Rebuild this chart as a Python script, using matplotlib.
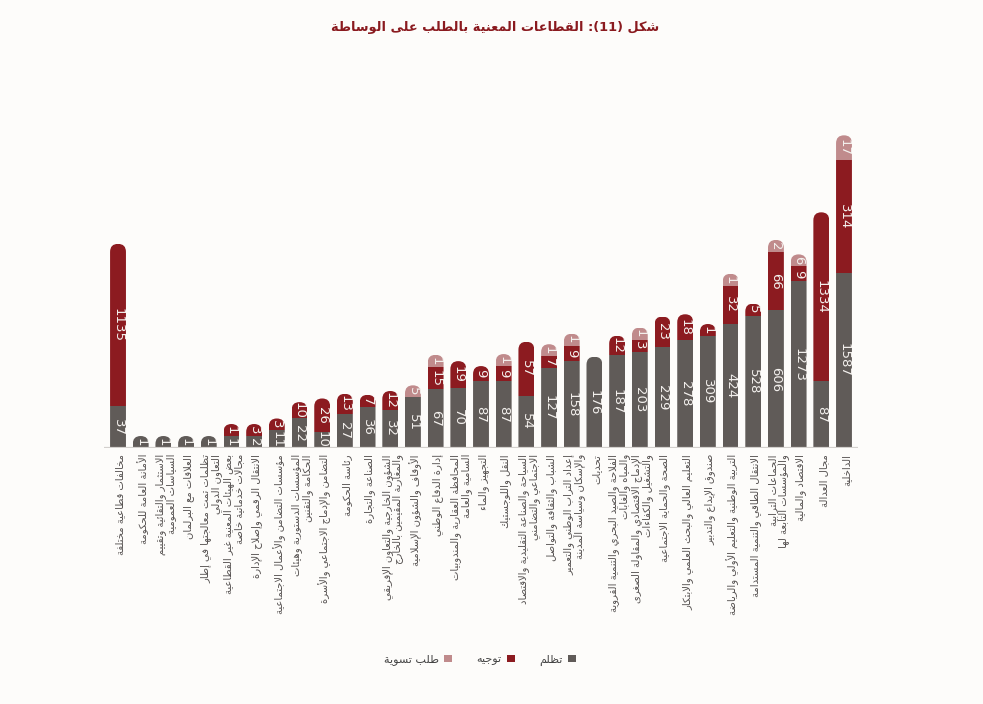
import numpy as np
import matplotlib
matplotlib.use('Agg')
import matplotlib.pyplot as plt
from matplotlib.patches import FancyBboxPatch, Patch

# ---- data (left to right as in the figure) ----
sectors = [
    "مخالفات قطاعية مختلفة",
    "الأمانة العامة للحكومة",
    "الاستثمار والتقائية وتقييم\nالسياسات العمومية",
    "العلاقات مع البرلمان",
    "تظلمات تمت معالجتها في إطار\nالتعاون الدولي",
    "بعض الهيئات المعنية غير القطاعية\nمجالات خدماتية خاصة",
    "الانتقال الرقمي وإصلاح الإدارة",
    "مؤسسات التضامن والأعمال الاجتماعية",
    "المؤسسات الدستورية وهيئات\nالحكامة والتقنين",
    "التضامن والإدماج الاجتماعي والأسرة",
    "رئاسة الحكومة",
    "الصناعة والتجارة",
    "الشؤون الخارجية والتعاون الإفريقي\nوالمغاربة المقيمين بالخارج",
    "الأوقاف والشؤون الإسلامية",
    "إدارة الدفاع الوطني",
    "المحافظة العقارية والمندوبيات\nالسامية والعامة",
    "التجهيز والماء",
    "النقل واللوجستيك",
    "السياحة والصناعة التقليدية والاقتصاد\nالاجتماعي والتضامني",
    "الشباب والثقافة والتواصل",
    "إعداد التراب الوطني والتعمير\nوالإسكان وسياسة المدينة",
    "تحديات",
    "الفلاحة والصيد البحري والتنمية القروية\nوالمياه والغابات",
    "الإدماج الاقتصادي والمقاولة الصغرى\nوالتشغيل والكفاءات",
    "الصحة والحماية الاجتماعية",
    "التعليم العالي والبحث العلمي والابتكار",
    "صندوق الإيداع والتدبير",
    "التربية الوطنية والتعليم الأولي والرياضة",
    "الانتقال الطاقي والتنمية المستدامة",
    "الجماعات الترابية\nوالمؤسسات التابعة لها",
    "الاقتصاد والمالية",
    "مجال العدالة",
    "الداخلية",
]
complaints = [37, 1, 1, 1, 1, 1, 2, 11, 22, 10, 27, 36, 32, 51, 67, 70, 87, 87,
              54, 127, 158, 176, 187, 203, 229, 278, 309, 424, 528, 606, 1273, 87, 1587]
referrals = [1135, 0, 0, 0, 0, 1, 3, 3, 10, 26, 13, 7, 12, 0, 15, 19, 9, 9,
             57, 7, 9, 0, 12, 3, 23, 18, 1, 32, 5, 66, 9, 1334, 314]
settlements = [0, 0, 0, 0, 0, 0, 0, 0, 0, 0, 0, 0, 0, 5, 1, 0, 0, 1,
               0, 1, 1, 0, 0, 1, 0, 0, 0, 1, 0, 2, 6, 0, 17]
series_names = ["تظلم", "توجيه", "طلب تسوية"]
series_colors = ["#605b58", "#8c1b20", "#c08b8c"]
title = "شكل (11): القطاعات المعنية بالطلب على الوساطة"

# ---- minimal arabic shaping + right-to-left ordering (matplotlib does neither) ----
AR = {'ء': (0xFE80, 1), 'آ': (0xFE81, 2), 'أ': (0xFE83, 2), 'ؤ': (0xFE85, 2),
      'إ': (0xFE87, 2), 'ئ': (0xFE89, 4), 'ا': (0xFE8D, 2), 'ب': (0xFE8F, 4),
      'ة': (0xFE93, 2), 'ت': (0xFE95, 4), 'ث': (0xFE99, 4), 'ج': (0xFE9D, 4),
      'ح': (0xFEA1, 4), 'خ': (0xFEA5, 4), 'د': (0xFEA9, 2), 'ذ': (0xFEAB, 2),
      'ر': (0xFEAD, 2), 'ز': (0xFEAF, 2), 'س': (0xFEB1, 4), 'ش': (0xFEB5, 4),
      'ص': (0xFEB9, 4), 'ض': (0xFEBD, 4), 'ط': (0xFEC1, 4), 'ظ': (0xFEC5, 4),
      'ع': (0xFEC9, 4), 'غ': (0xFECD, 4), 'ف': (0xFED1, 4), 'ق': (0xFED5, 4),
      'ك': (0xFED9, 4), 'ل': (0xFEDD, 4), 'م': (0xFEE1, 4), 'ن': (0xFEE5, 4),
      'ه': (0xFEE9, 4), 'و': (0xFEED, 2), 'ى': (0xFEEF, 2), 'ي': (0xFEF1, 4)}
LAM_ALEF = {'آ': 0xFEF5, 'أ': 0xFEF7, 'إ': 0xFEF9, 'ا': 0xFEFB}
MIRROR = {'(': ')', ')': '('}


def shape_word(w):
    toks = []
    i = 0
    while i < len(w):
        c = w[i]
        if c == 'ل' and i + 1 < len(w) and w[i + 1] in LAM_ALEF:
            toks.append((LAM_ALEF[w[i + 1]], 2))
            i += 2
            continue
        toks.append(AR.get(c, (c, 0)))
        i += 1
    if not any(n for _, n in toks):
        # neutral/number token: mirror punctuation, keep digit runs left-to-right
        rev = [MIRROR.get(c, c) for c in w[::-1]]
        out, j = [], 0
        while j < len(rev):
            if rev[j].isdigit():
                k = j
                while k < len(rev) and rev[k].isdigit():
                    k += 1
                out.extend(rev[j:k][::-1])
                j = k
            else:
                out.append(rev[j])
                j += 1
        return ''.join(out)
    out = []
    for k, (base, n) in enumerate(toks):
        if n == 0:
            out.append(base)
            continue
        prev = toks[k - 1] if k > 0 else (None, 0)
        nxt = toks[k + 1] if k + 1 < len(toks) else (None, 0)
        jp = prev[1] == 4 and n > 1
        jn = n == 4 and nxt[1] > 1
        form = 3 if (jp and jn) else 1 if jp else 2 if jn else 0
        out.append(chr(base + form))
    return ''.join(out[::-1])


def shape(s):
    return '\n'.join(' '.join(shape_word(w) for w in line.split(' ')[::-1])
                     for line in s.split('\n'))


AR_FONT = ['DejaVu Sans']
bg = '#fdfcfa'

fig = plt.figure(figsize=(9.83, 7.04), dpi=100, facecolor=bg)
ax = fig.add_axes([104.4 / 983, 256 / 704, 753.2 / 983, 330 / 704])
ax.set_facecolor(bg)
ax.set_xlim(-0.6, 32.6)
ax.set_ylim(0, 330)

x = np.arange(len(sectors))
vals = np.array([complaints, referrals, settlements], dtype=float)
# drawn length of each segment follows a log-like curve of its value (as in the original design)
seg = np.where(vals > 0, np.maximum(40 * np.log1p(vals / 20), 12), 0)
width = 0.7

# rounded-top outline used as clip for the stacked segments
px_x = 753.2 / (32.6 + 0.6)
px_y = 330 / 330
aspect = px_x / px_y
totals = seg.sum(axis=0)
clips = []
for xi, t in zip(x, totals):
    p = FancyBboxPatch((xi - width / 2, -20), width, t + 20,
                       boxstyle=f"round,pad=0,rounding_size={width / 2}",
                       mutation_aspect=aspect, facecolor='none', edgecolor='none')
    ax.add_patch(p)
    clips.append(p)

bottom = np.zeros(len(x))
for k in range(3):
    bars = ax.bar(x, seg[k], width, bottom=bottom, color=series_colors[k], linewidth=0)
    for rect, cp in zip(bars, clips):
        rect.set_clip_path(cp)
    for xi, b, h, v in zip(x, bottom, seg[k], vals[k]):
        if v > 0:
            ax.text(xi, b + h / 2, f"{int(v)}", rotation=270, ha='center', va='center',
                    color='#f3f0ed', fontsize=9.5, family='DejaVu Sans')
    bottom += seg[k]

ax.axhline(0, color='#d3d0cd', lw=1.6)

for xi, name in zip(x, sectors):
    ax.text(xi + 0.1, -6, shape(name), rotation=90, ha='center', va='top',
            multialignment='right', fontsize=7.2, color='#555150', family=AR_FONT,
            linespacing=1.0)

for s in ax.spines.values():
    s.set_visible(False)
ax.set_xticks([])
ax.set_yticks([])

fig.text(495 / 983, 1 - 28 / 704, shape(title), ha='center', va='center',
         fontsize=9.3, fontweight='bold', color='#8a1a1f', family=AR_FONT)

handles = [Patch(facecolor=c, edgecolor='none') for c in series_colors][::-1]
names = [shape(n) for n in series_names][::-1]
leg = fig.legend(handles, names, loc='center', bbox_to_anchor=(480 / 983, 1 - 660 / 704),
                 ncol=3, frameon=False, markerfirst=False, handlelength=0.7,
                 handleheight=0.7, columnspacing=2.2, handletextpad=0.5,
                 prop={'family': AR_FONT, 'size': 8})
for t in leg.get_texts():
    t.set_color('#444444')

fig.savefig('out.png', dpi=100, facecolor=bg)
